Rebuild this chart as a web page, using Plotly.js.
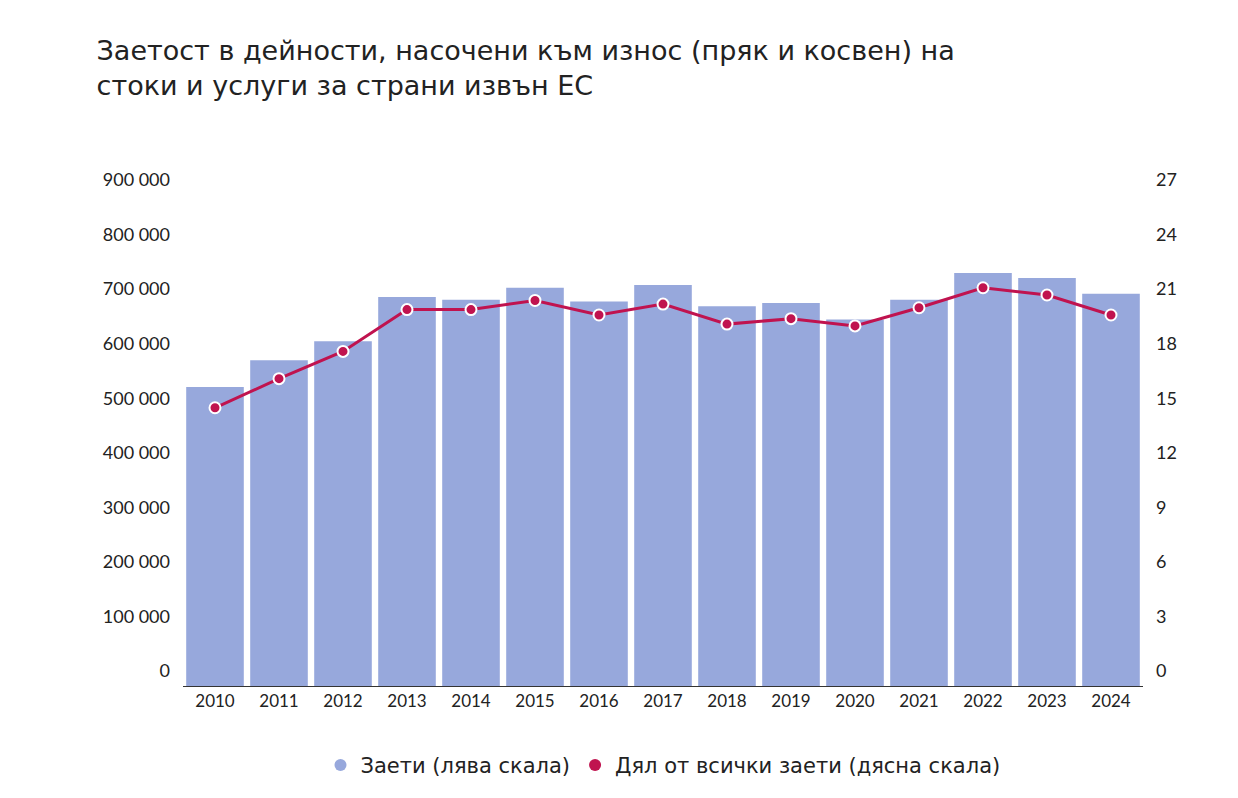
<!DOCTYPE html>
<html><head><meta charset="utf-8">
<script src="https://cdn.plot.ly/plotly-3.0.1.min.js"></script>
<style>body{margin:0;background:#fff}#chart{width:1238px;height:798px}</style>
</head><body><div id="chart"></div>
<script>
const years = ['2010','2011','2012','2013','2014','2015','2016','2017','2018','2019','2020','2021','2022','2023','2024'];
const employed = [548000,597000,632000,713000,708000,730000,705000,735000,696000,702000,672000,708000,757000,748000,719000];
const share = [15.3,16.9,18.4,20.7,20.7,21.2,20.4,21.0,19.9,20.2,19.8,20.8,21.9,21.5,20.4];
const leftTicks = [0,100000,200000,300000,400000,500000,600000,700000,800000,900000];
const leftLabels = ['0','100 000','200 000','300 000','400 000','500 000','600 000','700 000','800 000','900 000'];
const barColor = '#97a8dc', lineColor = '#c0134f';

const font = 'Lato, "Noto Sans", sans-serif';
Plotly.newPlot('chart', [
  {type:'bar', x:years, y:employed, showlegend:false, marker:{color:barColor}, hoverinfo:'y'},
  {type:'scatter', mode:'lines+markers', x:years, y:share, yaxis:'y2', showlegend:false,
   line:{color:lineColor, width:3}, marker:{color:lineColor, size:11, line:{color:'#fff', width:2}}},
  {type:'scatter', mode:'markers', x:[null], y:[null], name:'Заети (лява скала)', marker:{color:barColor, size:20}},
  {type:'scatter', mode:'markers', x:[null], y:[null], name:'Дял от всички заети (дясна скала)', marker:{color:lineColor, size:20}}
], {
  width:1238, height:798,
  margin:{l:183, r:95, t:195, b:112},
  font:{family:font, size:17, color:'#222'},
  title:{text:'Заетост в дейности, насочени към износ (пряк и косвен) на<br>стоки и услуги за страни извън ЕС',
    x:0.078, xanchor:'left', y:0.925, yanchor:'top', font:{size:27, color:'#222', family:'"DejaVu Sans", sans-serif'}},
  bargap:0.1,
  xaxis:{type:'category', range:[-0.5,14.5], tickvals:years, showline:true, linecolor:'#333', linewidth:1, tickfont:{size:17}, fixedrange:true},
  yaxis:{range:[0,900000], tickvals:leftTicks, ticktext:leftLabels, showgrid:false, zeroline:false,
    ticklabelshift:-15, ticklabelstandoff:12, tickfont:{size:18}},
  yaxis2:{range:[0,27], tickvals:[0,3,6,9,12,15,18,21,24,27], overlaying:'y', side:'right', showgrid:false,
    zeroline:false, ticklabelshift:-15, ticklabelstandoff:12, tickfont:{size:18}},
  showlegend:true,
  legend:{orientation:'h', x:0.5, xanchor:'center', y:-0.12, yanchor:'top', font:{size:21, family:'"DejaVu Sans", sans-serif'}, itemsizing:'constant'}
}, {displayModeBar:false});
</script></body></html>
